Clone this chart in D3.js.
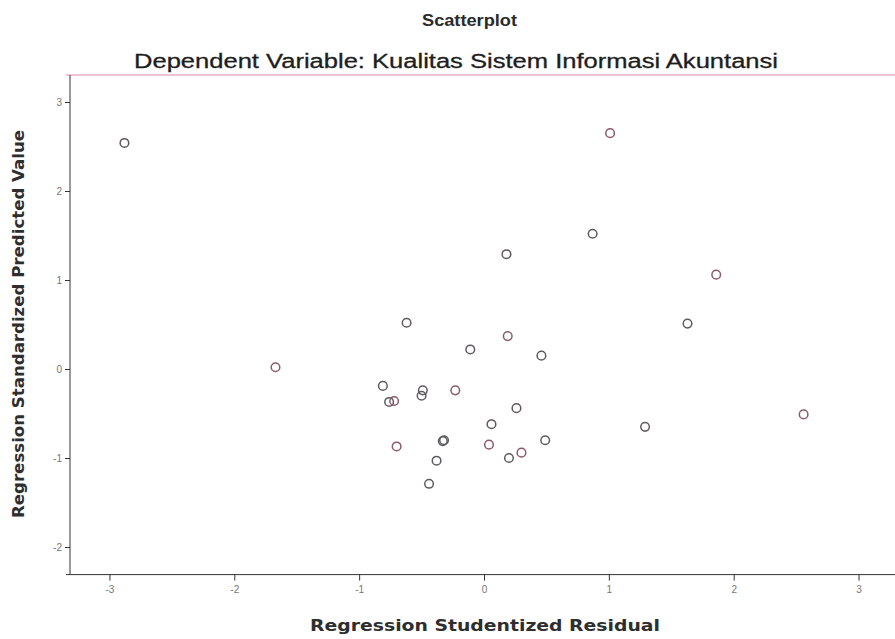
<!DOCTYPE html>
<html>
<head>
    <meta charset="utf-8">
    <style>
        body { margin: 0; background: #fff; }
        svg { display: block; font-family: "Liberation Sans", Arial, sans-serif; }
        .title { fill: #2a2a2a; font-size: 17px; font-weight: bold; }
        .subtitle { fill: #1e1e1e; font-size: 20px; stroke: #1e1e1e; stroke-width: 0.3px; }
        .axis-title { fill: #2e2e2e; font-family: "DejaVu Sans", Verdana, sans-serif; font-size: 16px; font-weight: bold; }
        .tick text { fill: #777; font-size: 10px; }
        .tick line, .domain { stroke: #333; }
    </style>
    <script src="https://d3js.org/d3.v7.min.js"></script>
</head>
<body>
    <svg width="895" height="639"></svg>
    <script>
        // residuals (x) and predicted values (y)
        var residual  = [-2.88, 1.01, 0.87, 0.18, 1.86, 1.63, -0.62, 0.19, -0.11, 0.46,
                         -1.67, -0.81, -0.76, -0.72, -0.49, -0.50, -0.23, 0.26, 0.06, -0.70,
                         -0.33, -0.32, 0.04, 0.49, 1.29, 2.56, -0.38, 0.20, 0.30, -0.44];
        var predicted = [2.54, 2.65, 1.52, 1.29, 1.06, 0.51, 0.52, 0.37, 0.22, 0.15,
                         0.02, -0.19, -0.37, -0.36, -0.24, -0.30, -0.24, -0.44, -0.62, -0.87,
                         -0.81, -0.80, -0.85, -0.80, -0.65, -0.51, -1.03, -1.00, -0.94, -1.29];
        var xTicks = [-3, -2, -1, 0, 1, 2, 3];
        var yTicks = [-2, -1, 0, 1, 2, 3];

        var svg = d3.select("svg");

        var x = d3.scaleLinear().domain([-3.3, 3.3]).range([72, 896]);
        var y = d3.scaleLinear().domain([-2.31, 3.3]).range([574.6, 75.3]);
        var fmt = function(d) { return String(d); };   // plain hyphen like SPSS

        // pinkish top border of the frame
        svg.append("line")
           .attr("x1", 66).attr("x2", 895)
           .attr("y1", 75).attr("y2", 75)
           .style("stroke", "#d98aa6").style("stroke-width", 1.2);

        svg.append("g")
           .attr("transform", "translate(0," + y(-2.31) + ")")
           .call(d3.axisBottom(x).tickValues(xTicks).tickSize(6).tickSizeOuter(0).tickFormat(fmt))
           .call(function(g) { g.select(".domain").attr("d", "M66,0H895"); })
           .selectAll(".tick text").attr("dy", "0.9em");

        svg.append("g")
           .attr("transform", "translate(" + 70 + ",0)")
           .call(d3.axisLeft(y).tickValues(yTicks).tickSize(5).tickSizeOuter(0).tickFormat(fmt))
           .call(function(g) { g.select(".domain").attr("d", "M0,75V" + y(-2.31)); });

        var pts = residual.map(function(v, i) { return [v, predicted[i]]; });

        svg.append("g").selectAll("circle")
           .data(pts)
           .enter().append("circle")
           .attr("cx", function(d) { return x(d[0]); })
           .attr("cy", function(d) { return y(d[1]); })
           .attr("r", 4.3)
           .style("fill", "none")
           .style("stroke", function(d, i) { return i % 3 == 1 ? "#8c5a6c" : "#5f5a5e"; })
           .style("stroke-width", 1.5);

        svg.append("text").attr("class", "title")
           .attr("x", 422).attr("y", 26)
           .attr("textLength", 95).attr("lengthAdjust", "spacingAndGlyphs")
           .text("Scatterplot");

        svg.append("text").attr("class", "subtitle")
           .attr("x", 134).attr("y", 68)
           .attr("textLength", 644).attr("lengthAdjust", "spacingAndGlyphs")
           .text("Dependent Variable: Kualitas Sistem Informasi Akuntansi");

        svg.append("text").attr("class", "axis-title")
           .attr("x", 310).attr("y", 631)
           .attr("textLength", 350).attr("lengthAdjust", "spacingAndGlyphs")
           .text("Regression Studentized Residual");

        svg.append("text").attr("class", "axis-title")
           .attr("transform", "translate(24,518) rotate(-90)")
           .attr("textLength", 388).attr("lengthAdjust", "spacingAndGlyphs")
           .text("Regression Standardized Predicted Value");
    </script>
</body>
</html>
